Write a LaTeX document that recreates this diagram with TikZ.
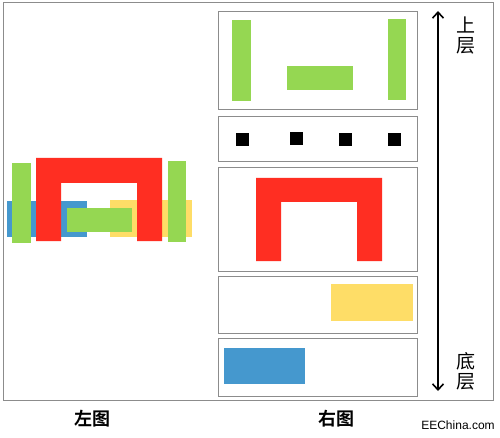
\documentclass[tikz,border=0pt]{standalone}
\usepackage{fontspec}
\setmainfont{Liberation Sans}
\newfontfamily\cjk{Noto Sans CJK SC}
\newfontfamily\cjkb{Noto Sans CJK SC Bold}
\usetikzlibrary{arrows.meta}
\definecolor{lgreen}{HTML}{95D752}
\definecolor{lred}{HTML}{FF2E22}
\definecolor{lyellow}{HTML}{FEDD67}
\definecolor{lblue}{HTML}{4598CE}
\definecolor{frame}{HTML}{8C8C8C}
\tikzset{
  panel/.style={draw=frame, line width=1pt},
  gbar/.style={fill=lgreen},
  rbar/.style={fill=lred},
  ybar/.style={fill=lyellow},
  bbar/.style={fill=lblue},
  dot/.style={fill=black},
  sidelabel/.style={font=\cjk\fontsize{19}{20}\selectfont, align=center, inner sep=0pt},
  caption/.style={font=\cjkb\fontsize{18}{20}\selectfont, inner sep=0pt},
  layerarrow/.style={line width=2pt, {Straight Barb[length=6pt,width=11pt,line width=1.6pt]}-{Straight Barb[length=6pt,width=11pt,line width=1.6pt]}}
}
\begin{document}
\begin{tikzpicture}[x=1pt,y=-1pt]
\useasboundingbox (0,0) rectangle (500,438);
\fill[white] (0,0) rectangle (500,438);
% outer frame
\draw[panel] (3,3) rectangle (493,400);
% left composite
\path[bbar] (7,201) rectangle (87,237);
\path[ybar] (110,200) rectangle (192,237);
\path[rbar] (36,158) -- (162,158) -- (162,241) -- (137,241) -- (137,183) -- (61,183) -- (61,241) -- (36,241) -- cycle;
\path[gbar] (12,163) rectangle (31,243);
\path[gbar] (67,208) rectangle (132,232);
\path[gbar] (168,161) rectangle (186,242);
% right panels
\draw[panel] (218,12) rectangle (417,110);
\draw[panel] (218,117) rectangle (417,162);
\draw[panel] (218,168) rectangle (417,271);
\draw[panel] (218,276) rectangle (417,333);
\draw[panel] (218,338) rectangle (417,396);
% panel 1
\path[gbar] (232,20) rectangle (251,101);
\path[gbar] (287,66) rectangle (353,90);
\path[gbar] (388,19) rectangle (406,100);
% panel 2
\path[dot] (236,133) rectangle (249,146);
\path[dot] (290,132) rectangle (303,145);
\path[dot] (339,133) rectangle (352,146);
\path[dot] (388,133) rectangle (401,146);
% panel 3
\path[rbar] (256,178) -- (382,178) -- (382,261) -- (357,261) -- (357,202) -- (281,202) -- (281,261) -- (256,261) -- cycle;
% panel 4
\path[ybar] (331,284) rectangle (413,321);
% panel 5
\path[bbar] (224,348) rectangle (305,384);
% arrow and labels
\coordinate (atop) at (438,11);
\coordinate (abot) at (438,391);
\draw[layerarrow] (abot) -- (atop);
\node[sidelabel] (up) at (466,36) {上\\层};
\node[sidelabel] (down) at (466,371) {底\\层};
% captions
\node[caption] (lcap) at (92,419) {左图};
\node[caption] (rcap) at (336,419) {右图};
\node[font=\fontsize{12}{14}\selectfont, inner sep=0pt] (site) at (458,425) {EEChina.com};
\end{tikzpicture}
\end{document}
